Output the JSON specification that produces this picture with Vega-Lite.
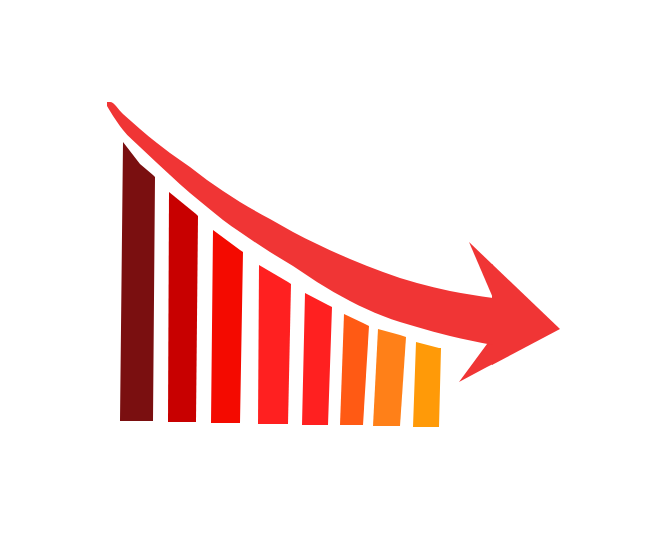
{
  "$schema": "https://vega.github.io/schema/vega-lite/v6.json",
  "autosize": {"type": "fit", "contains": "padding"},
  "width": 650,
  "height": 540,
  "padding": 0,
  "background": "#ffffff",
  "data": {"values": [
    {"shape": "bar1", "x": 120, "top": 421, "bottom": 421},
    {"shape": "bar1", "x": 123, "top": 142, "bottom": 421},
    {"shape": "bar1", "x": 140, "top": 164, "bottom": 421},
    {"shape": "bar1", "x": 153, "top": 175, "bottom": 421},
    {"shape": "bar1", "x": 155, "top": 177, "bottom": 177},
    {"shape": "bar2", "x": 168, "top": 422, "bottom": 422},
    {"shape": "bar2", "x": 169, "top": 192, "bottom": 422},
    {"shape": "bar2", "x": 196, "top": 214, "bottom": 422},
    {"shape": "bar2", "x": 198, "top": 216, "bottom": 216},
    {"shape": "bar3", "x": 211, "top": 423, "bottom": 423},
    {"shape": "bar3", "x": 213, "top": 230, "bottom": 423},
    {"shape": "bar3", "x": 240, "top": 250, "bottom": 423},
    {"shape": "bar3", "x": 243, "top": 252, "bottom": 252},
    {"shape": "bar4", "x": 258, "top": 424, "bottom": 424},
    {"shape": "bar4", "x": 259, "top": 265, "bottom": 424},
    {"shape": "bar4", "x": 288, "top": 282, "bottom": 424},
    {"shape": "bar4", "x": 291, "top": 284, "bottom": 284},
    {"shape": "bar5", "x": 302, "top": 425, "bottom": 425},
    {"shape": "bar5", "x": 305, "top": 293, "bottom": 425},
    {"shape": "bar5", "x": 328, "top": 305, "bottom": 425},
    {"shape": "bar5", "x": 332, "top": 307, "bottom": 307},
    {"shape": "bar6", "x": 340, "top": 425, "bottom": 425},
    {"shape": "bar6", "x": 344, "top": 314, "bottom": 425},
    {"shape": "bar6", "x": 363, "top": 323, "bottom": 425},
    {"shape": "bar6", "x": 369, "top": 326, "bottom": 326},
    {"shape": "bar7", "x": 373, "top": 426, "bottom": 426},
    {"shape": "bar7", "x": 378, "top": 329, "bottom": 426},
    {"shape": "bar7", "x": 400, "top": 335, "bottom": 426},
    {"shape": "bar7", "x": 406, "top": 337, "bottom": 337},
    {"shape": "bar8", "x": 413, "top": 427, "bottom": 427},
    {"shape": "bar8", "x": 416, "top": 342, "bottom": 427},
    {"shape": "bar8", "x": 439, "top": 348, "bottom": 427},
    {"shape": "bar8", "x": 441, "top": 348, "bottom": 348},
    {"shape": "arrow body", "x": 107, "top": 102, "bottom": 106},
    {"shape": "arrow body", "x": 110, "top": 102, "bottom": 111},
    {"shape": "arrow body", "x": 123, "top": 114, "bottom": 130},
    {"shape": "arrow body", "x": 140, "top": 129, "bottom": 147},
    {"shape": "arrow body", "x": 157, "top": 143, "bottom": 163},
    {"shape": "arrow body", "x": 170, "top": 153, "bottom": 175},
    {"shape": "arrow body", "x": 190, "top": 167, "bottom": 193},
    {"shape": "arrow body", "x": 207, "top": 180, "bottom": 207},
    {"shape": "arrow body", "x": 223, "top": 191, "bottom": 220},
    {"shape": "arrow body", "x": 240, "top": 202, "bottom": 232},
    {"shape": "arrow body", "x": 270, "top": 219, "bottom": 252},
    {"shape": "arrow body", "x": 293, "top": 232, "bottom": 266},
    {"shape": "arrow body", "x": 317, "top": 244, "bottom": 282},
    {"shape": "arrow body", "x": 350, "top": 259, "bottom": 301},
    {"shape": "arrow body", "x": 383, "top": 272, "bottom": 316},
    {"shape": "arrow body", "x": 400, "top": 278, "bottom": 322},
    {"shape": "arrow body", "x": 417, "top": 283, "bottom": 327},
    {"shape": "arrow body", "x": 450, "top": 291, "bottom": 336},
    {"shape": "arrow body", "x": 493, "top": 298, "bottom": 345},
    {"shape": "arrow upper barb", "x": 469, "top": 242, "bottom": 242},
    {"shape": "arrow upper barb", "x": 493, "top": 265, "bottom": 298},
    {"shape": "arrow lower barb", "x": 459, "top": 382, "bottom": 382},
    {"shape": "arrow lower barb", "x": 487, "top": 344, "bottom": 367},
    {"shape": "arrow lower barb", "x": 493, "top": 343, "bottom": 364},
    {"shape": "arrow point", "x": 492, "top": 264, "bottom": 365},
    {"shape": "arrow point", "x": 560, "top": 329, "bottom": 329}
  ]},
  "encoding": {
    "x": {"field": "x", "type": "quantitative", "axis": null, "scale": {"domain": [0, 650], "nice": false, "zero": false}},
    "y": {"field": "top", "type": "quantitative", "axis": null, "scale": {"domain": [540, 0], "nice": false, "zero": false}},
    "y2": {"field": "bottom"},
    "color": {
      "field": "shape",
      "type": "nominal",
      "legend": null,
      "scale": {
        "domain": ["bar1", "bar2", "bar3", "bar4", "bar5", "bar6", "bar7", "bar8", "arrow body", "arrow upper barb", "arrow lower barb", "arrow point"],
        "range": ["#7a0f10", "#c80000", "#f40a00", "#ff2020", "#ff2020", "#ff5a14", "#ff8018", "#ff9a08", "#f03535", "#f03535", "#f03535", "#f03535"]
      }
    }
  },
  "layer": [
    {
      "transform": [{"filter": "datum.shape !== 'arrow body'"}],
      "mark": {"type": "area", "opacity": 1, "strokeWidth": 0}
    },
    {
      "transform": [{"filter": "datum.shape === 'arrow body'"}],
      "mark": {"type": "area", "opacity": 1, "strokeWidth": 0, "interpolate": "monotone"}
    }
  ],
  "config": {"view": {"stroke": null}}
}
